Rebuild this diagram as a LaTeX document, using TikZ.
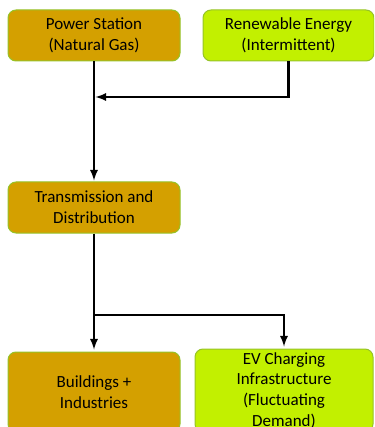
\documentclass[tikz,border=0pt]{standalone}
\usepackage{fontspec}
\setmainfont{Carlito}
\usepackage{tikz}
\usetikzlibrary{calc, positioning}

\definecolor{gasgold}{RGB}{212,160,0}
\definecolor{renewlime}{RGB}{194,240,0}
\definecolor{boxedge}{RGB}{150,195,40}

\tikzset{
  unit/.style={draw=boxedge, line width=1pt, rounded corners=8pt,
    align=center, inner sep=2pt, text=black,
    font=\fontsize{17}{20.7}\selectfont},
  goldbox/.style={unit, fill=gasgold},
  limebox/.style={unit, fill=renewlime},
  flow/.style={line width=2.6pt, ->}
}

\begin{document}
\begin{tikzpicture}[x=1pt, y=-1pt, >=latex]
  \useasboundingbox (0,0) rectangle (374,427);
  \clip (0,0) rectangle (374,427);
  % supply side
  \node (gas) at (94,35.5) [goldbox, minimum width=172, minimum height=51] {Power Station\\(Natural Gas)};
  \node (renew) at (288.5,35.5) [limebox, minimum width=171, minimum height=51] {Renewable Energy\\(Intermittent)};
  % grid
  \node (trans) at (94,207.5) [goldbox, minimum width=172, minimum height=51] {Transmission and\\Distribution};
  % demand side
  \node (bld) at (94,392) [goldbox, minimum width=172, minimum height=80] {Buildings +\\Industries};
  \node (ev) at (284,390.5) [limebox, minimum width=178, minimum height=83] {EV Charging\\Infrastructure\\(Fluctuating\\Demand)};
  \coordinate (join) at (95.5,97);
  \coordinate (split) at (94,315);
  \draw [flow, shorten >=1pt] (gas) -- (trans);
  \draw [flow] (renew) |- (join);
  \draw [line width=2.6pt] (trans) -- (split);
  \draw [flow, shorten >=2pt] (split) -- (bld);
  \draw [flow, shorten >=2pt] (split) -| (ev);
\end{tikzpicture}
\end{document}
